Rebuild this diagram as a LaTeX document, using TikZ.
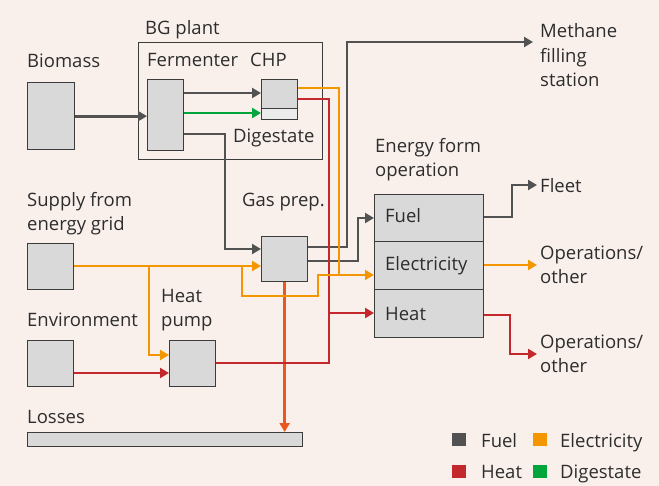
\documentclass[tikz,border=0pt]{standalone}
\usepackage{fontspec}
\setmainfont{Open Sans}
\usetikzlibrary{arrows.meta,calc}
\definecolor{bgc}{RGB}{249,240,236}
\definecolor{fuelc}{RGB}{82,82,82}
\definecolor{elc}{RGB}{243,150,0}
\definecolor{heatc}{RGB}{195,40,45}
\definecolor{digc}{RGB}{0,165,60}
\definecolor{lossc}{RGB}{235,88,30}
\definecolor{boxc}{RGB}{217,217,217}
\definecolor{boxlc}{RGB}{236,236,236}
\definecolor{edgec}{RGB}{60,60,60}
\definecolor{txtc}{RGB}{45,45,45}
\begin{document}
\begin{tikzpicture}[x=1pt,y=-1pt,
  box/.style={draw=edgec, line width=1.3pt, fill=boxc, inner sep=0pt, anchor=north west},
  frame/.style={draw=edgec, line width=1.3pt, inner sep=0pt, anchor=north west},
  lbl/.style={anchor=base west, inner sep=0pt, text=txtc, align=left,
              font=\fontsize{18.5}{24.5}\selectfont},
  flow/.style={line width=2.8pt, -{Triangle[length=9pt,width=10pt]}},
  line/.style={line width=2.8pt},
  legsq/.style={fill=#1, draw=none, minimum width=14pt, minimum height=13pt, inner sep=0pt, anchor=north west}
]
\fill[bgc] (0,0) rectangle (659,486);
\useasboundingbox (0,0) rectangle (659,486);

% ---------- boxes ----------
\node[frame, minimum width=184pt, minimum height=117pt] (bg) at (138,42) {};
\node[box, minimum width=47pt, minimum height=67pt] (bio) at (27,82) {};
\node[box, minimum width=36pt, minimum height=71pt] (ferm) at (147,79) {};
\node[box, minimum width=36pt, minimum height=40pt] (chp) at (261,79) {};
\node[box, fill=boxlc, minimum width=36pt, minimum height=11pt] (chpd) at (261,108) {};
\node[box, minimum width=46pt, minimum height=46pt] (sup) at (27,243) {};
\node[box, minimum width=46pt, minimum height=46pt] (env) at (27,340) {};
\node[box, minimum width=46pt, minimum height=46pt] (hp) at (169,340) {};
\node[box, minimum width=46pt, minimum height=45pt] (gas) at (261,236) {};
\node[box, minimum width=109pt, minimum height=47pt] (fuel) at (374,194) {};
\node[box, minimum width=109pt, minimum height=48pt] (elec) at (374,241) {};
\node[box, minimum width=109pt, minimum height=48pt] (heat) at (374,289) {};
\node[box, minimum width=275pt, minimum height=14pt] (loss) at (27,432) {};

% ---------- labels (base = last line) ----------
\node[lbl] (tbg) at (145,35) {BG plant};
\node[lbl] (tbio) at (27,68) {Biomass};
\node[lbl] (tferm) at (147,67) {Fermenter};
\node[lbl] (tchp) at (250,67) {CHP};
\node[lbl] (tdig) at (233,143) {Digestate};
\node[lbl] (tsup) at (27,231) {Supply from\\energy grid};
\node[lbl] (tgas) at (242,207) {Gas prep.};
\node[lbl] (thp) at (161,327) {Heat\\pump};
\node[lbl] (tenv) at (27,327) {Environment};
\node[lbl] (tloss) at (27,423) {Losses};
\node[lbl] (teop) at (375,177) {Energy form\\operation};
\node[lbl] (tfuel) at (385,223) {Fuel};
\node[lbl] (telec) at (385,271) {Electricity};
\node[lbl] (theat) at (385,321) {Heat};
\node[lbl] (tmeth) at (540,87) {Methane\\filling\\station};
\node[lbl] (tfleet) at (540,193) {Fleet};
\node[lbl] (tops1) at (540,284) {Operations/\\other};
\node[lbl] (tops2) at (540,373) {Operations/\\other};

\coordinate (meth) at (533,42);
\coordinate (fleet) at (537,185);
\coordinate (ops1) at (537,265);
\coordinate (ops2) at (537,354);

% ---------- fuel (gray) ----------
\draw[flow, fuelc] (bio.east) -- (ferm.west |- bio.east);
\draw[flow, fuelc] (ferm.east |- 0,93) -- (chp.west |- 0,93);
\draw[flow, fuelc] (ferm.east |- 0,134) -| (225,249) -- (gas.west |- 0,249);
\draw[flow, fuelc] (gas.east |- 0,247) -| (347,42) -- (meth);
\draw[flow, fuelc] (gas.east |- 0,261) -| (358,218) -- (fuel.west |- 0,218);
\draw[flow, fuelc] (fuel.east |- 0,217) -| (512,185) -- (fleet);

% ---------- digestate (green) ----------
\draw[flow, digc] (ferm.east |- 0,113) -- (chp.west |- 0,113);

% ---------- losses ----------
\draw[flow, lossc] (gas.south) -- (loss.north -| gas.south);

% ---------- heat (red) ----------
\draw[line, heatc] (hp.east |- 0,363) -| (329,99) -- (chp.east |- 0,99);
\draw[flow, heatc] (329,313) -- (heat.west |- 0,313);
\draw[flow, heatc] (env.east |- 0,373) -- (hp.west |- 0,373);
\draw[flow, heatc] (heat.east |- 0,315) -| (510,354) -- (ops2);

% ---------- electricity (orange) ----------
\draw[flow, elc] (sup.east |- 0,266) -- (gas.west |- 0,266);
\draw[flow, elc] (149,266) |- (hp.west |- 0,355);
\draw[line, elc] (242,266) |- (318,296) |- (339,275);
\draw[flow, elc] (chp.east |- 0,88) -| (339,275) -- (elec.west |- 0,275);
\draw[flow, elc] (elec.east |- 0,265) -- (ops1);

% ---------- legend ----------
\node[legsq=fuelc] (lf) at (452,433) {};
\node[lbl] (lft) at (481,447) {Fuel};
\node[legsq=elc] (le) at (533,433) {};
\node[lbl] (let) at (560,447) {Electricity};
\node[legsq=heatc] (lh) at (452,465) {};
\node[lbl] (lht) at (481,478) {Heat};
\node[legsq=digc] (ld) at (533,465) {};
\node[lbl] (ldt) at (560,478) {Digestate};
\end{tikzpicture}
\end{document}
